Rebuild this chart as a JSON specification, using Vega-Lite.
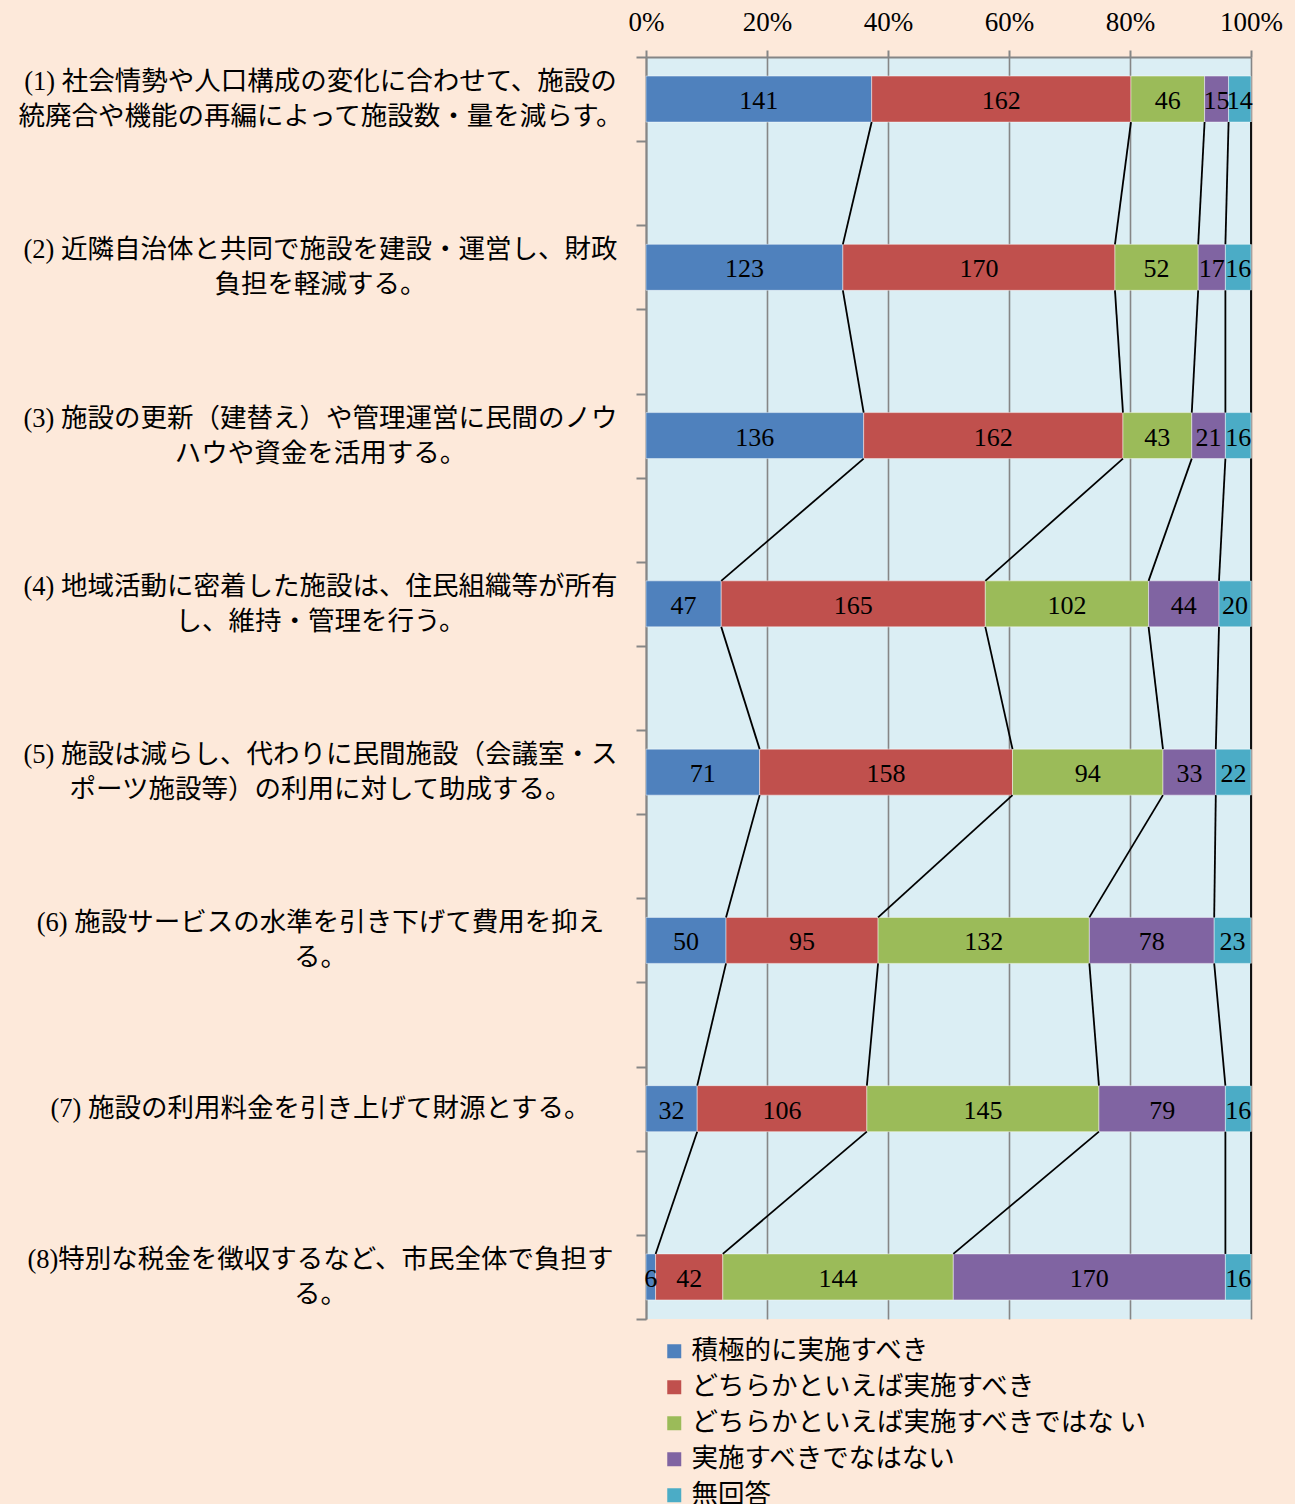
{
  "$schema": "https://vega.github.io/schema/vega-lite/v6.json",
  "autosize": {"type": "none"},
  "width": 605,
  "height": 1262,
  "padding": {"left": 646, "top": 57, "right": 44, "bottom": 185},
  "background": "#FDE9DA",
  "config": {
    "view": {"fill": "#DBEEF4", "stroke": null},
    "font": "Liberation Serif, Noto Sans CJK JP"
  },
  "data": {
    "values": [
      {"q": "(1) 社会情勢や人口構成の変化に合わせて、施設の\n統廃合や機能の再編によって施設数・量を減らす。", "s": "積極的に実施すべき", "n": 141},
      {"q": "(1) 社会情勢や人口構成の変化に合わせて、施設の\n統廃合や機能の再編によって施設数・量を減らす。", "s": "どちらかといえば実施すべき", "n": 162},
      {"q": "(1) 社会情勢や人口構成の変化に合わせて、施設の\n統廃合や機能の再編によって施設数・量を減らす。", "s": "どちらかといえば実施すべきではな い", "n": 46},
      {"q": "(1) 社会情勢や人口構成の変化に合わせて、施設の\n統廃合や機能の再編によって施設数・量を減らす。", "s": "実施すべきでなはない", "n": 15},
      {"q": "(1) 社会情勢や人口構成の変化に合わせて、施設の\n統廃合や機能の再編によって施設数・量を減らす。", "s": "無回答", "n": 14},
      {"q": "(2) 近隣自治体と共同で施設を建設・運営し、財政\n負担を軽減する。", "s": "積極的に実施すべき", "n": 123},
      {"q": "(2) 近隣自治体と共同で施設を建設・運営し、財政\n負担を軽減する。", "s": "どちらかといえば実施すべき", "n": 170},
      {"q": "(2) 近隣自治体と共同で施設を建設・運営し、財政\n負担を軽減する。", "s": "どちらかといえば実施すべきではな い", "n": 52},
      {"q": "(2) 近隣自治体と共同で施設を建設・運営し、財政\n負担を軽減する。", "s": "実施すべきでなはない", "n": 17},
      {"q": "(2) 近隣自治体と共同で施設を建設・運営し、財政\n負担を軽減する。", "s": "無回答", "n": 16},
      {"q": "(3) 施設の更新（建替え）や管理運営に民間のノウ\nハウや資金を活用する。", "s": "積極的に実施すべき", "n": 136},
      {"q": "(3) 施設の更新（建替え）や管理運営に民間のノウ\nハウや資金を活用する。", "s": "どちらかといえば実施すべき", "n": 162},
      {"q": "(3) 施設の更新（建替え）や管理運営に民間のノウ\nハウや資金を活用する。", "s": "どちらかといえば実施すべきではな い", "n": 43},
      {"q": "(3) 施設の更新（建替え）や管理運営に民間のノウ\nハウや資金を活用する。", "s": "実施すべきでなはない", "n": 21},
      {"q": "(3) 施設の更新（建替え）や管理運営に民間のノウ\nハウや資金を活用する。", "s": "無回答", "n": 16},
      {"q": "(4) 地域活動に密着した施設は、住民組織等が所有\nし、維持・管理を行う。", "s": "積極的に実施すべき", "n": 47},
      {"q": "(4) 地域活動に密着した施設は、住民組織等が所有\nし、維持・管理を行う。", "s": "どちらかといえば実施すべき", "n": 165},
      {"q": "(4) 地域活動に密着した施設は、住民組織等が所有\nし、維持・管理を行う。", "s": "どちらかといえば実施すべきではな い", "n": 102},
      {"q": "(4) 地域活動に密着した施設は、住民組織等が所有\nし、維持・管理を行う。", "s": "実施すべきでなはない", "n": 44},
      {"q": "(4) 地域活動に密着した施設は、住民組織等が所有\nし、維持・管理を行う。", "s": "無回答", "n": 20},
      {"q": "(5) 施設は減らし、代わりに民間施設（会議室・ス\nポーツ施設等）の利用に対して助成する。", "s": "積極的に実施すべき", "n": 71},
      {"q": "(5) 施設は減らし、代わりに民間施設（会議室・ス\nポーツ施設等）の利用に対して助成する。", "s": "どちらかといえば実施すべき", "n": 158},
      {"q": "(5) 施設は減らし、代わりに民間施設（会議室・ス\nポーツ施設等）の利用に対して助成する。", "s": "どちらかといえば実施すべきではな い", "n": 94},
      {"q": "(5) 施設は減らし、代わりに民間施設（会議室・ス\nポーツ施設等）の利用に対して助成する。", "s": "実施すべきでなはない", "n": 33},
      {"q": "(5) 施設は減らし、代わりに民間施設（会議室・ス\nポーツ施設等）の利用に対して助成する。", "s": "無回答", "n": 22},
      {"q": "(6) 施設サービスの水準を引き下げて費用を抑え\nる。", "s": "積極的に実施すべき", "n": 50},
      {"q": "(6) 施設サービスの水準を引き下げて費用を抑え\nる。", "s": "どちらかといえば実施すべき", "n": 95},
      {"q": "(6) 施設サービスの水準を引き下げて費用を抑え\nる。", "s": "どちらかといえば実施すべきではな い", "n": 132},
      {"q": "(6) 施設サービスの水準を引き下げて費用を抑え\nる。", "s": "実施すべきでなはない", "n": 78},
      {"q": "(6) 施設サービスの水準を引き下げて費用を抑え\nる。", "s": "無回答", "n": 23},
      {"q": "(7) 施設の利用料金を引き上げて財源とする。", "s": "積極的に実施すべき", "n": 32},
      {"q": "(7) 施設の利用料金を引き上げて財源とする。", "s": "どちらかといえば実施すべき", "n": 106},
      {"q": "(7) 施設の利用料金を引き上げて財源とする。", "s": "どちらかといえば実施すべきではな い", "n": 145},
      {"q": "(7) 施設の利用料金を引き上げて財源とする。", "s": "実施すべきでなはない", "n": 79},
      {"q": "(7) 施設の利用料金を引き上げて財源とする。", "s": "無回答", "n": 16},
      {"q": "(8)特別な税金を徴収するなど、市民全体で負担す\nる。", "s": "積極的に実施すべき", "n": 6},
      {"q": "(8)特別な税金を徴収するなど、市民全体で負担す\nる。", "s": "どちらかといえば実施すべき", "n": 42},
      {"q": "(8)特別な税金を徴収するなど、市民全体で負担す\nる。", "s": "どちらかといえば実施すべきではな い", "n": 144},
      {"q": "(8)特別な税金を徴収するなど、市民全体で負担す\nる。", "s": "実施すべきでなはない", "n": 170},
      {"q": "(8)特別な税金を徴収するなど、市民全体で負担す\nる。", "s": "無回答", "n": 16}
    ]
  },
  "transform": [
    {"calculate": "indexof(['積極的に実施すべき', 'どちらかといえば実施すべき', 'どちらかといえば実施すべきではな い', '実施すべきでなはない', '無回答'], datum.s)", "as": "k"},
    {"stack": "n", "groupby": ["q"], "offset": "normalize", "sort": [{"field": "k", "order": "ascending"}], "as": ["x0", "x1"]},
    {"calculate": "(datum.x0 + datum.x1) / 2", "as": "mid"}
  ],
  "encoding": {
    "y": {
      "field": "q",
      "type": "nominal",
      "scale": {
        "domain": [
          "(1) 社会情勢や人口構成の変化に合わせて、施設の\n統廃合や機能の再編によって施設数・量を減らす。", "gap1",
          "(2) 近隣自治体と共同で施設を建設・運営し、財政\n負担を軽減する。", "gap2",
          "(3) 施設の更新（建替え）や管理運営に民間のノウ\nハウや資金を活用する。", "gap3",
          "(4) 地域活動に密着した施設は、住民組織等が所有\nし、維持・管理を行う。", "gap4",
          "(5) 施設は減らし、代わりに民間施設（会議室・ス\nポーツ施設等）の利用に対して助成する。", "gap5",
          "(6) 施設サービスの水準を引き下げて費用を抑え\nる。", "gap6",
          "(7) 施設の利用料金を引き上げて財源とする。", "gap7",
          "(8)特別な税金を徴収するなど、市民全体で負担す\nる。"
        ],
        "paddingInner": 0,
        "paddingOuter": 0
      },
      "axis": {
        "title": null,
        "orient": "left",
        "tickBand": "extent",
        "tickSize": 10,
        "tickWidth": 2,
        "tickColor": "#868686",
        "domainColor": "#868686",
        "domainWidth": 2,
        "labelAlign": "center",
        "labelBaseline": "middle",
        "labelPadding": 316,
        "labelOffset": {"condition": {"test": "isString(datum.value) && indexof(datum.value, '\\n') >= 0", "value": -17.5}, "value": 0},
        "labelFontSize": 26.5,
        "labelFont": "Liberation Serif, Noto Sans CJK JP",
        "labelColor": "#000000",
        "labelLineHeight": 35,
        "labelLimit": 0,
        "labelExpr": "isString(datum.value) && indexof(datum.value, 'gap') != 0 ? split(datum.value, '\\n') : ''"
      }
    }
  },
  "layer": [
    {
      "mark": {"type": "bar", "height": 46, "stroke": "#ffffff", "strokeWidth": 1, "strokeOpacity": 0.45},
      "encoding": {
        "x": {
          "field": "x0",
          "type": "quantitative",
          "scale": {"domain": [0, 1], "nice": false},
          "axis": {
            "title": null,
            "orient": "top",
            "values": [0, 0.2, 0.4, 0.6, 0.8, 1],
            "format": ".0%",
            "labelFont": "Liberation Serif",
            "labelFontSize": 27,
            "labelColor": "#000000",
            "labelFlush": false,
            "labelPadding": 14,
            "tickSize": 7,
            "tickWidth": 2,
            "tickColor": "#868686",
            "domainColor": "#868686",
            "domainWidth": 2,
            "grid": true,
            "gridColor": "#868686",
            "gridWidth": 1.6
          }
        },
        "x2": {"field": "x1"},
        "color": {
          "field": "s",
          "type": "nominal",
          "scale": {
            "domain": ["積極的に実施すべき", "どちらかといえば実施すべき", "どちらかといえば実施すべきではな い", "実施すべきでなはない", "無回答"],
            "range": ["#4F81BD", "#C0504D", "#9BBB59", "#8064A2", "#4BACC6"]
          },
          "legend": {
            "title": null,
            "orient": "none",
            "direction": "vertical",
            "legendX": 15,
            "legendY": 1281,
            "symbolType": "square",
            "symbolSize": 196,
            "symbolStrokeWidth": 0,
            "symbolOpacity": 1,
            "labelFont": "Noto Sans CJK JP",
            "labelFontSize": 26.5,
            "labelColor": "#000000",
            "labelOffset": 4,
            "labelLimit": 0,
            "rowPadding": 9
          }
        }
      }
    },
    {
      "transform": [
        {"window": [{"op": "lead", "field": "x1", "as": "nx1"}, {"op": "lead", "field": "q", "as": "nq"}], "groupby": ["s"], "sort": [{"field": "q", "order": "ascending"}]},
        {"filter": "datum.nq != null"}
      ],
      "mark": {"type": "rule", "color": "#000000", "strokeWidth": 1.8, "yOffset": 23, "y2Offset": -23},
      "encoding": {
        "x": {"field": "x1", "type": "quantitative"},
        "x2": {"field": "nx1"},
        "y2": {"field": "nq"}
      }
    },
    {
      "mark": {"type": "text", "font": "Liberation Serif", "fontSize": 26, "color": "#000000", "baseline": "middle", "align": "center", "dy": 2},
      "encoding": {
        "x": {"field": "mid", "type": "quantitative"},
        "text": {"field": "n", "type": "quantitative"}
      }
    }
  ]
}
